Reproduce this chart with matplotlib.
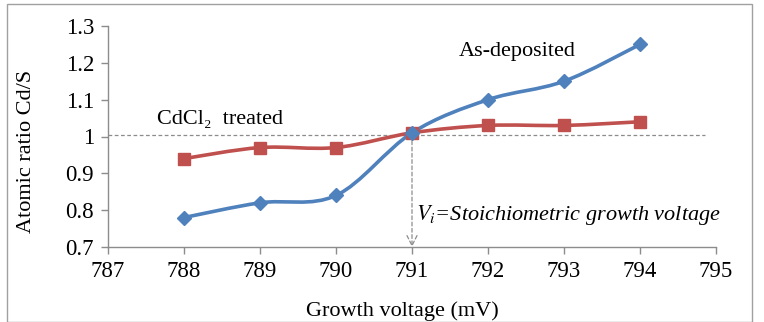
import matplotlib
matplotlib.use("Agg")
import matplotlib.pyplot as plt
import numpy as np
from matplotlib.path import Path
from matplotlib.patches import PathPatch, Rectangle

plt.rcParams['font.family'] = ['Liberation Serif', 'DejaVu Serif']
plt.rcParams['mathtext.fontset'] = 'stix'

voltage = [788, 789, 790, 791, 792, 793, 794]
as_deposited = [0.78, 0.82, 0.84, 1.01, 1.10, 1.15, 1.25]
cdcl2_treated = [0.94, 0.97, 0.97, 1.01, 1.03, 1.03, 1.04]
x_ticks = [787, 788, 789, 790, 791, 792, 793, 794, 795]
y_ticks = [0.7, 0.8, 0.9, 1.0, 1.1, 1.2, 1.3]
y_ticklabels = ['0.7', '0.8', '0.9', '1', '1.1', '1.2', '1.3']
stoich_v = 791
stoich_ratio = 1.005


def smooth_path(xs, ys, t=1 / 6):
    # Excel-style smoothed line: cubic bezier through each point
    pts = np.column_stack([xs, ys]).astype(float)
    verts = [pts[0]]
    codes = [Path.MOVETO]
    n = len(pts)
    for i in range(n - 1):
        p0 = pts[i - 1] if i > 0 else pts[i]
        p1 = pts[i]
        p2 = pts[i + 1]
        p3 = pts[i + 2] if i + 2 < n else pts[i + 1]
        c1 = p1 + (p2 - p0) * t
        c2 = p2 - (p3 - p1) * t
        verts += [c1, c2, p2]
        codes += [Path.CURVE4] * 3
    return Path(verts, codes)


fig = plt.figure(figsize=(7.64, 3.22), dpi=100)
ax = fig.add_axes([108 / 764, 1 - 247 / 322, (716 - 108) / 764, (247 - 26) / 322])

grey = '#8c8c8c'
for ys, col, mk, ms in [(cdcl2_treated, '#C0504D', 's', 9),
                        (as_deposited, '#4F81BD', 'D', 7.5)]:
    ax.add_patch(PathPatch(smooth_path(voltage, ys), facecolor='none',
                           edgecolor=col, lw=2.6, zorder=3))
    ax.plot(voltage, ys, linestyle='none', marker=mk, ms=ms, color=col, zorder=4)

ax.plot([787, 794.85], [stoich_ratio, stoich_ratio], ls=(0, (3, 2)), color=grey, lw=0.9, zorder=2)
ax.annotate('', xy=(stoich_v, 0.7), xytext=(stoich_v, stoich_ratio),
            arrowprops=dict(arrowstyle='->', color=grey, lw=0.9, ls=(0, (3, 2)),
                            mutation_scale=18, shrinkA=0, shrinkB=0), zorder=2)

ax.set_xlim(787, 795)
ax.set_ylim(0.7, 1.3)
ax.set_xticks(x_ticks)
ax.set_yticks(y_ticks)
ax.set_yticklabels(y_ticklabels)
ax.tick_params(labelsize=16.5, color=grey, length=5, width=1, direction='out', pad=5)
for s in ['top', 'right']:
    ax.spines[s].set_visible(False)
for s in ['left', 'bottom']:
    ax.spines[s].set_color(grey)
    ax.spines[s].set_linewidth(1)

ax.set_xlabel('Growth voltage (mV)', fontsize=16)
ax.set_ylabel('Atomic ratio Cd/S', fontsize=16)
ax.xaxis.set_label_coords(0.484, -0.245)
ax.yaxis.set_label_coords(-0.118, 0.434)

ax.text(788.47, 1.045, 'CdCl\u2082  treated', fontsize=16, ha='center', va='center')
ax.text(792.39, 1.23, 'As-deposited', fontsize=16, ha='center', va='center')
ax.text(791.05, 0.787, r'$V_i$=Stoichiometric growth voltage', fontsize=16,
        style='italic', ha='left', va='center')

fig.patches.append(Rectangle((7 / 764, 0), (752 - 7) / 764, 1 - 4 / 322,
                             transform=fig.transFigure, fill=False,
                             edgecolor='#a0a0a0', lw=1))

fig.savefig('out.png', dpi=100)
